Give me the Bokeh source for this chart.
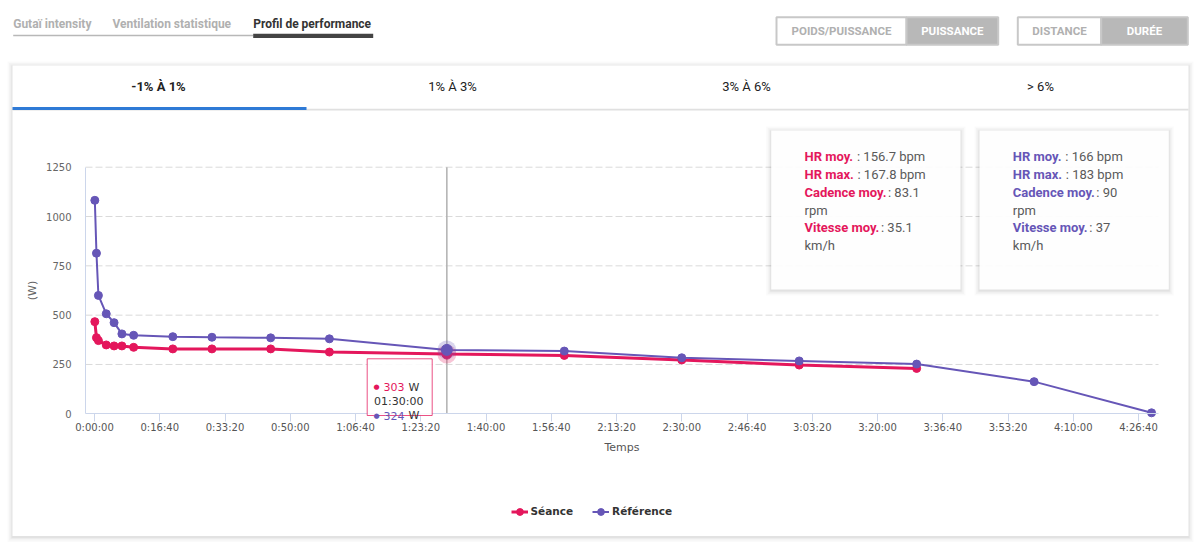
from bokeh.plotting import figure
from bokeh.models import Range1d, LinearAxis, FixedTicker, Legend, LegendItem
from bokeh.core.properties import value
from bokeh.embed import file_html
from bokeh.resources import INLINE

# ---------------- data ----------------
series_names = ["Séance", "Référence"]
seance_t = [5, 30, 60, 180, 300, 420, 600, 1200, 1800, 2700, 3600, 5400, 7200, 9000, 10800, 12600]
seance_w = [467, 386, 371, 349, 344, 344, 337, 329, 329, 329, 313, 303, 296, 273, 247, 230]
ref_t = [5, 30, 60, 180, 300, 420, 600, 1200, 1800, 2700, 3600, 5400, 7200, 9000, 10800, 12600, 14400, 16200]
ref_w = [1082, 814, 600, 507, 462, 405, 398, 391, 388, 385, 380, 324, 318, 284, 268, 252, 163, 5]
x_ticks = [0, 1000, 2000, 3000, 4000, 5000, 6000, 7000, 8000, 9000, 10000, 11000, 12000, 13000, 14000, 15000, 16000]
x_tick_labels = ["0:00:00", "0:16:40", "0:33:20", "0:50:00", "1:06:40", "1:23:20", "1:40:00", "1:56:40",
                 "2:13:20", "2:30:00", "2:46:40", "3:03:20", "3:20:00", "3:36:40", "3:53:20", "4:10:00", "4:26:40"]
y_ticks = [0, 250, 500, 750, 1000, 1250]
x_title = "Temps"
y_title = "(W)"
hover_t = 5400
hover_label = "01:30:00"
page_tabs = ["Gutaï intensity", "Ventilation statistique", "Profil de performance"]
unit_buttons = ["POIDS/PUISSANCE", "PUISSANCE"]
axis_buttons = ["DISTANCE", "DURÉE"]
slope_tabs = ["-1% À 1%", "1% À 3%", "3% À 6%", "> 6%"]
stat_labels = ["HR moy.", "HR max.", "Cadence moy.", "Vitesse moy."]
seance_stats = ["156.7", "167.8", "83.1", "35.1"]
ref_stats = ["166", "183", "90", "37"]
stat_units = ["bpm", "bpm", "rpm", "km/h"]

# ---------------- style / layout ----------------
RED = "#e4175c"
PURPLE = "#6656b7"
CW, CH = 1200, 543
OX, OY = 0, 0
X_ZERO, X_SCALE = 94.0, 0.06525     # page px of t=0, px per second
Y_ZERO, Y_SCALE = 413.3, 0.19728    # page px of 0 W, px per watt
PLOT_L, PLOT_R = 85.0, 1158.0


def sec(px):
    return (px - X_ZERO) / X_SCALE


def watt(py):
    return (Y_ZERO - py) / Y_SCALE


x_lo, x_hi = sec(PLOT_L), sec(PLOT_R)

p = figure(width=CW, height=CH, output_backend="svg", toolbar_location=None, title=None, tools="",
           x_range=Range1d(sec(OX), sec(OX + CW)), y_range=Range1d(watt(OY + CH), watt(OY)),
           x_axis_type=None, y_axis_type=None, min_border=0)
p.outline_line_color = None
p.background_fill_color = "white"
p.border_fill_color = "white"
p.extra_x_ranges = {"px": Range1d(OX, OX + CW)}
p.extra_y_ranges = {"py": Range1d(OY + CH, OY)}
PX = dict(x_range_name="px", y_range_name="py")


def box(l, t, r, b, fill="white", line=None, lw=1, alpha=1.0, line_alpha=1.0, level="glyph"):
    p.quad(left=[l], right=[r], top=[t], bottom=[b], fill_color=fill, fill_alpha=alpha,
           line_color=line, line_width=lw, line_alpha=line_alpha, level=level, **PX)


def shadow(l, t, r, b):
    for d, a in [(5, 0.02), (3.5, 0.025), (2, 0.03), (1, 0.04)]:
        box(l - d, t - d + 1, r + d, b + d + 1, fill="black", alpha=a)


def txt(x, y, s, size=13, color="#333", font="Roboto", style="normal", align="left", level="glyph"):
    p.text(x=[x], y=[y], text=[s], text_font=value(font), text_font_size=value(f"{size}px"),
           text_color=color, text_font_style=style, text_align=align, text_baseline="middle",
           level=level, **PX)


# ---- page tabs ----
for i, (x, s) in enumerate(zip([12.7, 112, 252.7], page_tabs)):
    txt(x, 23, s, 12, "#333" if i == 2 else "#b0b0b0", style="bold")
box(12.7, 34.3, 252.7, 35.8, fill="#b8b8b8")
box(252.7, 33.2, 372.7, 37.6, fill="#444444")


# ---- toggle buttons ----
def button(l, r, s, active):
    box(l, 16.7, r, 44.3, fill="#b8b8b8" if active else "white", line="#c8c8c8", lw=2)
    txt((l + r) / 2, 30.8, s, 11.5, "white" if active else "#b0b0b0", style="bold", align="center")


button(776, 906, unit_buttons[0], False)
button(906, 997.7, unit_buttons[1], True)
button(1017.3, 1100.7, axis_buttons[0], False)
button(1100.7, 1187.3, axis_buttons[1], True)

# ---- card ----
shadow(12, 65, 1188, 535.5)
box(12, 65, 1188, 535.5, fill="white")
for i, (cx, s) in enumerate(zip([158, 452, 746, 1040], slope_tabs)):
    txt(cx, 86, s, 13, "#222", style="bold" if i == 0 else "normal", align="center")
box(12, 108.3, 1188, 110, fill="#e0e0e0")
box(12, 106.5, 306, 109.5, fill="#2f7ad6")

# ---- grid lines ----
gy = y_ticks[1:]
p.segment(x0=[x_lo] * len(gy), x1=[x_hi] * len(gy), y0=gy, y1=gy,
          line_color="#dadada", line_dash="7 3", line_width=1)

# ---- stat boxes ----
rows = [155.7, 173.7, 191.7, 209.7, 227.3, 245.0]
offsets = [52.5, 53, 83.5, 76.5]
label_rows = [0, 1, 2, 4]
for bx, color, nums in [(770.7, RED, seance_stats), (979.0, PURPLE, ref_stats)]:
    shadow(bx, 130, bx + 189.3, 289)
    box(bx, 130, bx + 189.3, 289, fill="white", alpha=0.94)
    tx = bx + 33.3
    for k, lab in enumerate(stat_labels):
        r = label_rows[k]
        txt(tx, rows[r], lab, 13, color, style="bold")
        if k < 2:
            txt(tx + offsets[k], rows[r], f": {nums[k]} {stat_units[k]}", 13, "#5a5a5a")
        else:
            txt(tx + offsets[k], rows[r], f": {nums[k]}", 13, "#5a5a5a")
            txt(tx, rows[r + 1], stat_units[k], 13, "#5a5a5a")

# ---- crosshair ----
hi = seance_t.index(hover_t)
hj = ref_t.index(hover_t)
p.segment(x0=[hover_t], x1=[hover_t], y0=[y_ticks[0]], y1=[y_ticks[-1]], line_color="#b0b0b0", line_width=1.5)

# ---- series ----
r1 = p.line(seance_t, seance_w, line_color=RED, line_width=3)
r1p = p.scatter(seance_t, seance_w, size=8, fill_color=RED, line_color=RED)
r2 = p.line(ref_t, ref_w, line_color=PURPLE, line_width=2)
r2p = p.scatter(ref_t, ref_w, size=8, fill_color=PURPLE, line_color=PURPLE)

# hovered points
p.scatter([hover_t], [seance_w[hi]], size=19, fill_color=RED, fill_alpha=0.25, line_color=None)
p.scatter([hover_t], [seance_w[hi]], size=10, fill_color=RED, line_color=RED)
p.scatter([hover_t], [ref_w[hj]], size=19, fill_color=PURPLE, fill_alpha=0.25, line_color=None)
p.scatter([hover_t], [ref_w[hj]], size=11, fill_color=PURPLE, line_color=PURPLE)

# ---- tooltip ----
box(366.7, 358.3, 431.7, 415, fill="white", alpha=0.85, line=RED, line_alpha=0.75, lw=1, level="overlay")
for yy, col, val in [(386.7, RED, seance_w[hi]), (415.0, PURPLE, ref_w[hj])]:
    txt(376, yy, "●", 7, col, font="DejaVu Sans", align="center", level="overlay")
    txt(383, yy, f"{val}", 11, col, font="DejaVu Sans", level="overlay")
    txt(408, yy, "W", 11, "#333", font="DejaVu Sans", level="overlay")
txt(373.5, 400.7, hover_label, 11, "#333", font="DejaVu Sans", level="overlay")

# ---- axes ----
yaxis = LinearAxis(fixed_location=x_lo, bounds=(y_ticks[0], y_ticks[-1]), ticker=FixedTicker(ticks=y_ticks),
                   axis_label=y_title, axis_line_color="#ccd6eb", axis_line_width=1,
                   major_tick_line_color=None, major_tick_in=0, major_tick_out=0, minor_tick_line_color=None,
                   major_label_standoff=14, major_label_text_font="DejaVu Sans",
                   major_label_text_font_size="10px", major_label_text_color="#666666",
                   axis_label_text_font="DejaVu Sans", axis_label_text_font_size="11px",
                   axis_label_text_font_style="normal", axis_label_text_color="#666666", axis_label_standoff=4)
p.add_layout(yaxis, "left")

xaxis = LinearAxis(fixed_location=0, bounds=(x_lo, x_hi), ticker=FixedTicker(ticks=x_ticks),
                   major_label_overrides=dict(zip(x_ticks, x_tick_labels)),
                   axis_label=x_title, axis_line_color="#ccd6eb", axis_line_width=1,
                   major_tick_line_color="#ccd6eb", major_tick_in=0, major_tick_out=8,
                   minor_tick_line_color=None, major_label_standoff=0,
                   major_label_text_font="DejaVu Sans", major_label_text_font_size="10px",
                   major_label_text_color="#555555",
                   axis_label_text_font="DejaVu Sans", axis_label_text_font_size="11px",
                   axis_label_text_font_style="normal", axis_label_text_color="#555555", axis_label_standoff=5)
p.add_layout(xaxis, "below")

# ---- legend ----
legend = Legend(items=[LegendItem(label=series_names[0], renderers=[r1, r1p]),
                       LegendItem(label=series_names[1], renderers=[r2, r2p])],
                orientation="horizontal", location=(510.5 - OX, OY + CH - 519.5), padding=0, margin=0,
                spacing=19, glyph_width=17, glyph_height=17, label_height=17, label_standoff=3,
                label_text_font="DejaVu Sans", label_text_font_style="bold", label_text_font_size="10.5px",
                label_text_color="#333333", background_fill_alpha=0, border_line_alpha=0)
p.add_layout(legend)

open("out.html", "w").write(file_html(p, INLINE))
